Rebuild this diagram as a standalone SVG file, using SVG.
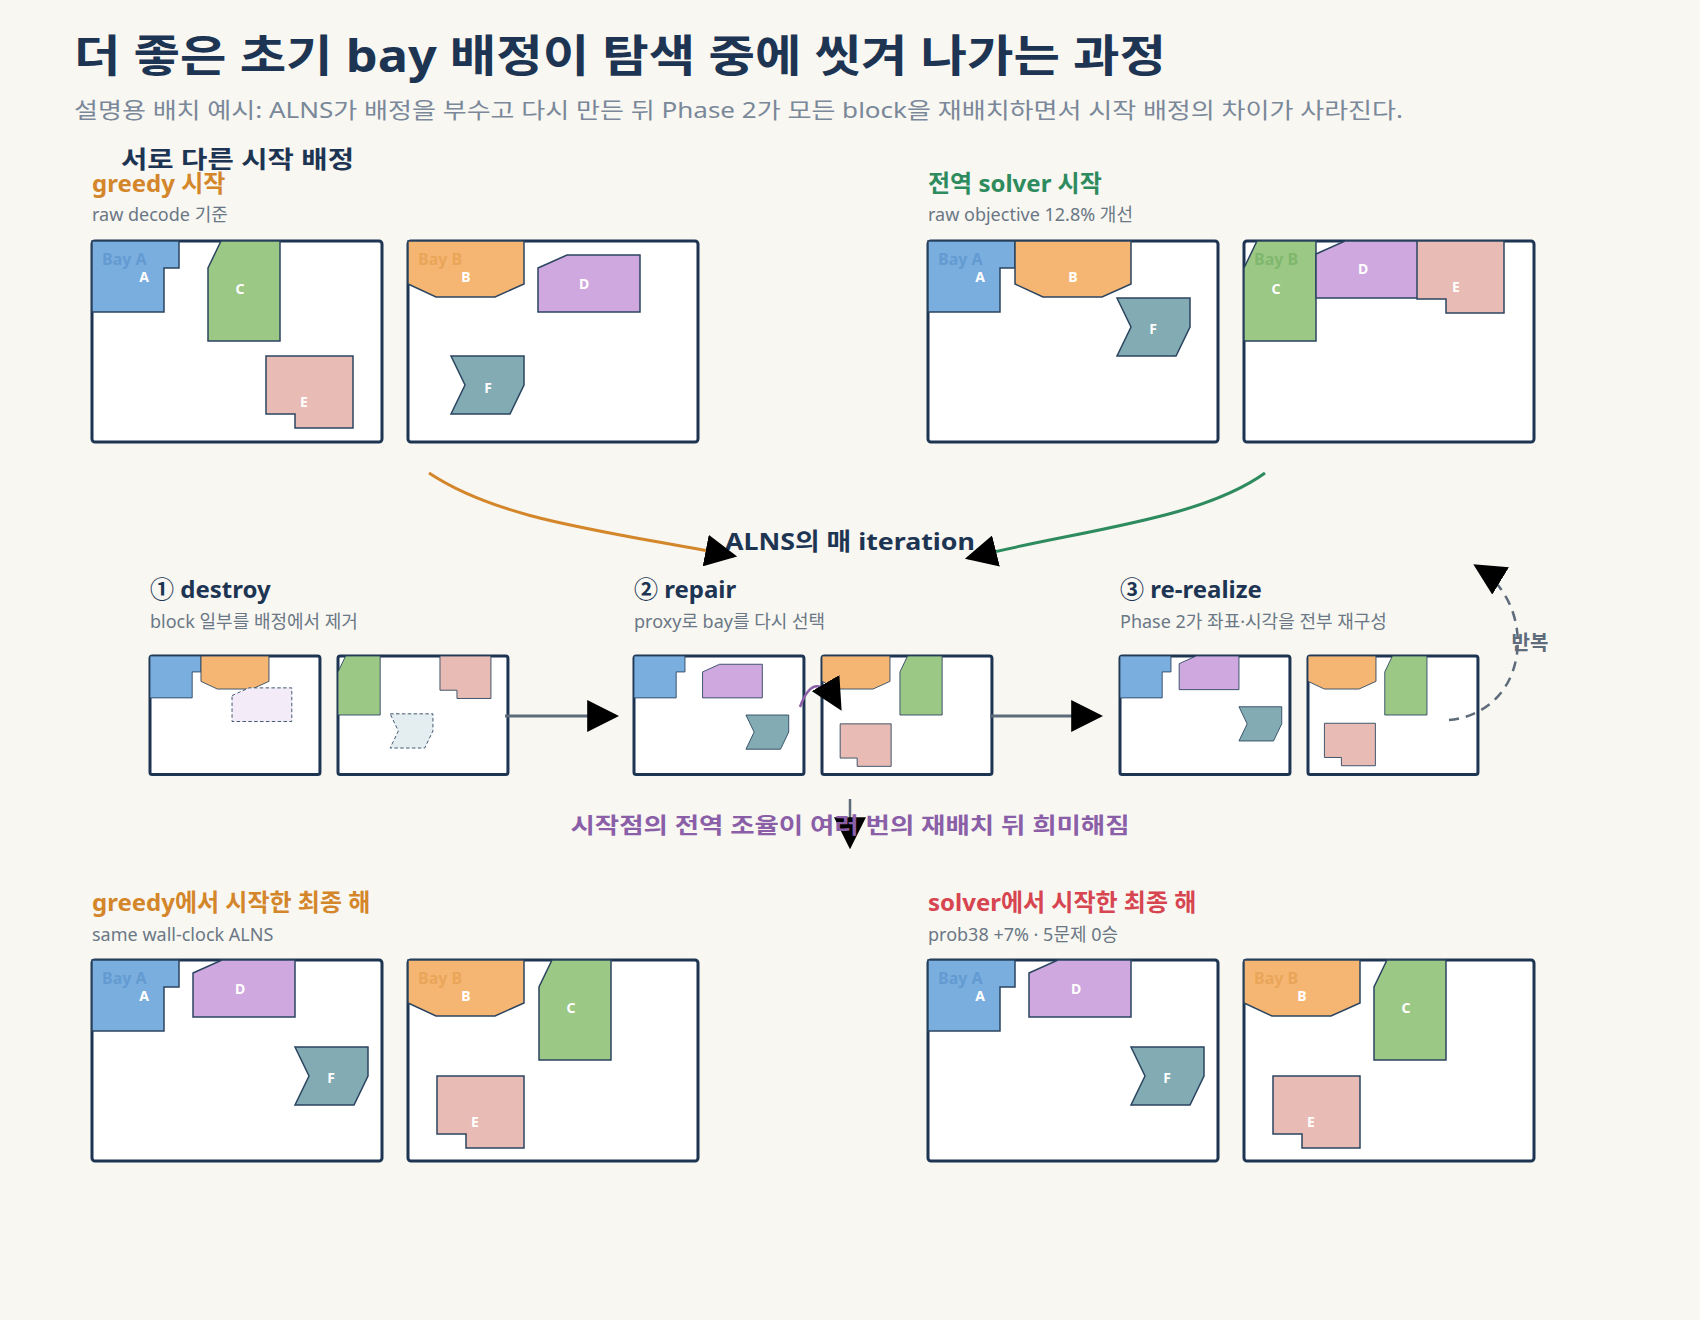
<svg xmlns="http://www.w3.org/2000/svg" xmlns:xlink="http://www.w3.org/1999/xlink" width="1700" height="1320" viewBox="0 0 1700 1320">
<style>
text{font-family:"Noto Sans","Noto Sans CJK KR",sans-serif}
.title{font-size:44px;font-weight:700;fill:#1d3553}
.sub{font-size:22px;fill:#7a8899}
.h{font-size:24px;font-weight:700}
.dark{fill:#1d3553}
.small{font-size:18px;fill:#6b7785}
.panel{fill:#fff;stroke:#1d3553;stroke-width:3}
.blk{stroke:#2b4460;stroke-width:1.5;vector-effect:non-scaling-stroke}
.mp{fill:#fff;stroke:#1d3553;stroke-width:3;vector-effect:non-scaling-stroke}
.lbl{font-size:14px;font-weight:700;fill:#fff;text-anchor:middle}
.bay{font-size:16px;font-weight:700;opacity:0.35}
.A{fill:#7aaedf}.B{fill:#f5b673}.C{fill:#9cc886}.D{fill:#cfa8e0}.E{fill:#e8bcb5}.F{fill:#82abb3}
.ghost{stroke:#2b4460;stroke-width:1.5;stroke-dasharray:6 4;vector-effect:non-scaling-stroke}
</style>
<defs>
<polygon id="pA" points="0,0 87,0 87,27 72,27 72,71 0,71"/>
<polygon id="pB" points="0,0 116,0 116,43 87,56 28,56 0,43"/>
<polygon id="pC" points="13,0 72,0 72,100 0,100 0,27"/>
<polygon id="pD" points="0,13 29,0 102,0 102,57 0,57"/>
<polygon id="pE" points="0,0 87,0 87,72 29,72 29,58 0,58"/>
<polygon id="pF" points="0,0 73,0 73,29 59,58 0,58 14,29"/>
<marker id="ah" viewBox="0 0 10 10" refX="9" refY="5" markerWidth="32" markerHeight="32" markerUnits="userSpaceOnUse" orient="auto"><path d="M0,0 L10,5 L0,10 z" fill="#000"/></marker>
</defs>
<rect width="1700" height="1320" fill="#f8f7f2"/>

<text class="title" x="74" y="72" textLength="1092" lengthAdjust="spacingAndGlyphs">더 좋은 초기 bay 배정이 탐색 중에 씻겨 나가는 과정</text>
<text class="sub" x="74" y="118" textLength="1329" lengthAdjust="spacingAndGlyphs">설명용 배치 예시: ALNS가 배정을 부수고 다시 만든 뒤 Phase 2가 모든 block을 재배치하면서 시작 배정의 차이가 사라진다.</text>
<text class="h dark" x="121" y="168" textLength="233" lengthAdjust="spacingAndGlyphs">서로 다른 시작 배정</text>

<g id="greedy-start">
<text class="h" x="92" y="192" fill="#d4862a">greedy 시작</text>
<text class="small" x="92" y="221">raw decode 기준</text>
<rect class="panel" x="92" y="241" width="290" height="201" rx="3"/>
<use href="#pA" class="blk A" x="92" y="241"/><text class="bay" x="102" y="265" fill="#3a78b8">Bay A</text><text class="lbl" x="144" y="282">A</text>
<use href="#pC" class="blk C" x="208" y="241"/><text class="lbl" x="240" y="294">C</text>
<use href="#pE" class="blk E" x="266" y="356"/><text class="lbl" x="304" y="407">E</text>
<rect class="panel" x="408" y="241" width="290" height="201" rx="3"/>
<use href="#pB" class="blk B" x="408" y="241"/><text class="bay" x="418" y="265" fill="#d4862a">Bay B</text><text class="lbl" x="466" y="282">B</text>
<use href="#pD" class="blk D" x="538" y="255"/><text class="lbl" x="584" y="289">D</text>
<use href="#pF" class="blk F" x="451" y="356"/><text class="lbl" x="488" y="393">F</text>
</g>

<g id="solver-start">
<text class="h" x="928" y="192" fill="#2e8b5e">전역 solver 시작</text>
<text class="small" x="928" y="221">raw objective 12.8% 개선</text>
<rect class="panel" x="928" y="241" width="290" height="201" rx="3"/>
<use href="#pA" class="blk A" x="928" y="241"/><text class="bay" x="938" y="265" fill="#3a78b8">Bay A</text><text class="lbl" x="980" y="282">A</text>
<use href="#pB" class="blk B" x="1015" y="241"/><text class="lbl" x="1073" y="282">B</text>
<use href="#pF" class="blk F" x="1117" y="298"/><text class="lbl" x="1153" y="334">F</text>
<rect class="panel" x="1244" y="241" width="290" height="201" rx="3"/>
<use href="#pC" class="blk C" x="1244" y="241"/><text class="bay" x="1254" y="265" fill="#4a9a40">Bay B</text><text class="lbl" x="1276" y="294">C</text>
<use href="#pD" class="blk D" x="1316" y="241"/><text class="lbl" x="1363" y="274">D</text>
<use href="#pE" class="blk E" x="1417" y="241"/><text class="lbl" x="1456" y="292">E</text>
</g>

<text class="h dark" x="850" y="550" text-anchor="middle" font-size="26" textLength="250" lengthAdjust="spacingAndGlyphs">ALNS의 매 iteration</text>

<g id="destroy">
<text class="h dark" x="150" y="598">① destroy</text>
<text class="small" x="150" y="628">block 일부를 배정에서 제거</text>
<g transform="translate(150,656) scale(0.586,0.59)">
<rect class="mp" width="290" height="201" rx="4"/>
<use href="#pA" class="blk A"/><use href="#pB" class="blk B" x="87"/>
<use href="#pD" class="ghost" x="140" y="54" fill="#f3ecf8"/>
</g>
<g transform="translate(338,656) scale(0.586,0.59)">
<rect class="mp" width="290" height="201" rx="4"/>
<use href="#pC" class="blk C"/><use href="#pE" class="blk E" x="174"/>
<use href="#pF" class="ghost" x="89" y="98" fill="#e4edf0"/>
</g>
</g>

<g id="repair">
<text class="h dark" x="634" y="598">② repair</text>
<text class="small" x="634" y="628">proxy로 bay를 다시 선택</text>
<g transform="translate(634,656) scale(0.586,0.59)">
<rect class="mp" width="290" height="201" rx="4"/>
<use href="#pA" class="blk A"/><use href="#pD" class="blk D" x="117" y="14"/><use href="#pF" class="blk F" x="191" y="100"/>
</g>
<g transform="translate(822,656) scale(0.586,0.59)">
<rect class="mp" width="290" height="201" rx="4"/>
<use href="#pB" class="blk B"/><use href="#pC" class="blk C" x="133"/><use href="#pE" class="blk E" x="31" y="115"/>
</g>
</g>

<g id="rerealize">
<text class="h dark" x="1120" y="598">③ re-realize</text>
<text class="small" x="1120" y="628">Phase 2가 좌표·시각을 전부 재구성</text>
<g transform="translate(1120,656) scale(0.586,0.59)">
<rect class="mp" width="290" height="201" rx="4"/>
<use href="#pA" class="blk A"/><use href="#pD" class="blk D" x="101"/><use href="#pF" class="blk F" x="203" y="86"/>
</g>
<g transform="translate(1308,656) scale(0.586,0.59)">
<rect class="mp" width="290" height="201" rx="4"/>
<use href="#pB" class="blk B"/><use href="#pC" class="blk C" x="131"/><use href="#pE" class="blk E" x="28" y="114"/>
</g>
</g>

<g id="connectors" fill="none">
<path d="M429,473 C500,520 600,530 734,556" stroke="#d4862a" stroke-width="3" marker-end="url(#ah)"/>
<path d="M1265,473 C1200,520 1080,530 968,558" stroke="#2e8b5e" stroke-width="3" marker-end="url(#ah)"/>
<path d="M505,716 L616,716" stroke="#5d6b7b" stroke-width="3" marker-end="url(#ah)"/>
<path d="M990,716 L1100,716" stroke="#5d6b7b" stroke-width="3" marker-end="url(#ah)"/>
<path d="M800,707 Q815,665 840,708" stroke="#8a5fa8" stroke-width="2.5" marker-end="url(#ah)"/>
<path d="M1449,720 C1530,712 1540,605 1476,566" stroke="#5d6b7b" stroke-width="2.5" stroke-dasharray="10 7" marker-end="url(#ah)"/>
<path d="M850,799 L850,846" stroke="#5d6b7b" stroke-width="2.5" marker-end="url(#ah)"/>
</g>
<text x="1530" y="650" font-size="20" font-weight="700" fill="#5d6b7b" text-anchor="middle">반복</text>
<text x="850" y="833" font-size="22" font-weight="700" fill="#8a5fa8" text-anchor="middle" textLength="559" lengthAdjust="spacingAndGlyphs">시작점의 전역 조율이 여러 번의 재배치 뒤 희미해짐</text>

<g id="greedy-final">
<text class="h" x="92" y="911" fill="#d4862a">greedy에서 시작한 최종 해</text>
<text class="small" x="92" y="941">same wall-clock ALNS</text>
<rect class="panel" x="92" y="960" width="290" height="201" rx="3"/>
<use href="#pA" class="blk A" x="92" y="960"/><text class="bay" x="102" y="984" fill="#3a78b8">Bay A</text><text class="lbl" x="144" y="1001">A</text>
<use href="#pD" class="blk D" x="193" y="960"/><text class="lbl" x="240" y="994">D</text>
<use href="#pF" class="blk F" x="295" y="1047"/><text class="lbl" x="331" y="1083">F</text>
<rect class="panel" x="408" y="960" width="290" height="201" rx="3"/>
<use href="#pB" class="blk B" x="408" y="960"/><text class="bay" x="418" y="984" fill="#d4862a">Bay B</text><text class="lbl" x="466" y="1001">B</text>
<use href="#pC" class="blk C" x="539" y="960"/><text class="lbl" x="571" y="1013">C</text>
<use href="#pE" class="blk E" x="437" y="1076"/><text class="lbl" x="475" y="1127">E</text>
</g>

<g id="solver-final">
<text class="h" x="928" y="911" fill="#d64550">solver에서 시작한 최종 해</text>
<text class="small" x="928" y="941">prob38 +7% · 5문제 0승</text>
<rect class="panel" x="928" y="960" width="290" height="201" rx="3"/>
<use href="#pA" class="blk A" x="928" y="960"/><text class="bay" x="938" y="984" fill="#3a78b8">Bay A</text><text class="lbl" x="980" y="1001">A</text>
<use href="#pD" class="blk D" x="1029" y="960"/><text class="lbl" x="1076" y="994">D</text>
<use href="#pF" class="blk F" x="1131" y="1047"/><text class="lbl" x="1167" y="1083">F</text>
<rect class="panel" x="1244" y="960" width="290" height="201" rx="3"/>
<use href="#pB" class="blk B" x="1244" y="960"/><text class="bay" x="1254" y="984" fill="#d4862a">Bay B</text><text class="lbl" x="1302" y="1001">B</text>
<use href="#pC" class="blk C" x="1374" y="960"/><text class="lbl" x="1406" y="1013">C</text>
<use href="#pE" class="blk E" x="1273" y="1076"/><text class="lbl" x="1311" y="1127">E</text>
</g>
</svg>
